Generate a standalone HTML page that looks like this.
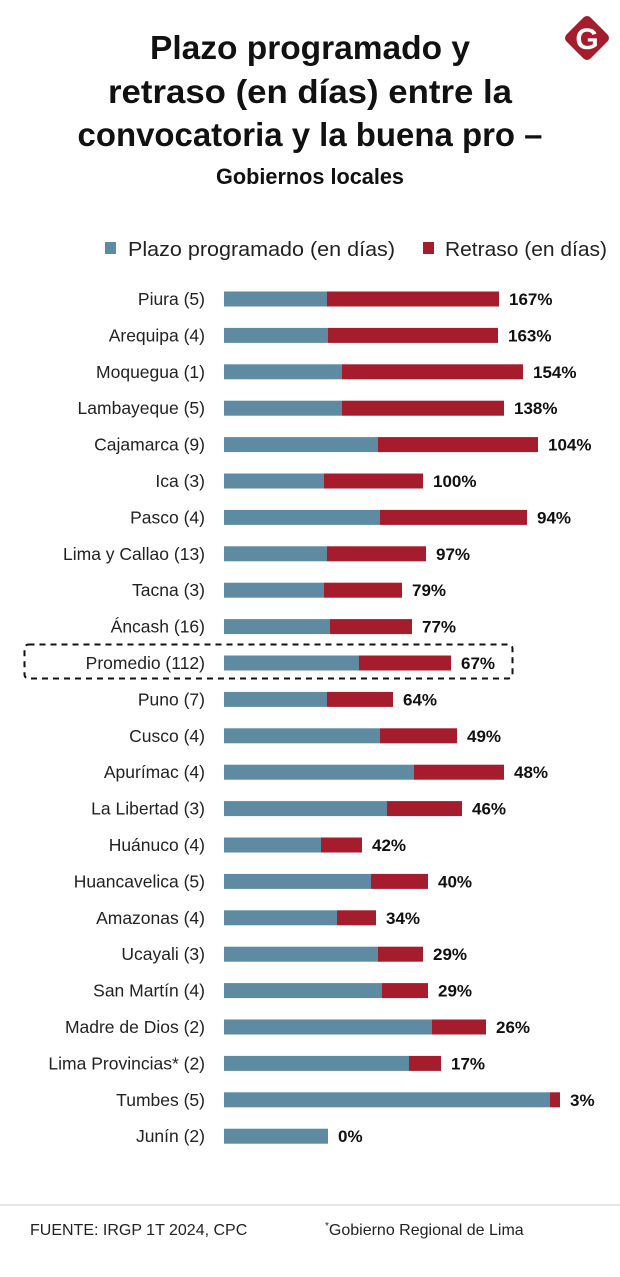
<!DOCTYPE html>
<html><head><meta charset="utf-8"><style>
body{margin:0;background:#fff;width:620px;height:1272px;overflow:hidden;font-family:"Liberation Sans",sans-serif}
</style></head><body>
<svg width="620" height="1272" viewBox="0 0 620 1272" xmlns="http://www.w3.org/2000/svg">
<g font-family="Liberation Sans, sans-serif" font-weight="bold" text-anchor="middle" fill="#111">
<text x="310" y="59" font-size="33" textLength="320" lengthAdjust="spacingAndGlyphs">Plazo programado y</text>
<text x="310" y="103" font-size="33" textLength="404" lengthAdjust="spacingAndGlyphs">retraso (en días)  entre la</text>
<text x="310" y="146" font-size="33" textLength="465" lengthAdjust="spacingAndGlyphs">convocatoria y la buena pro –</text>
<text x="310" y="184" font-size="22" textLength="188" lengthAdjust="spacingAndGlyphs">Gobiernos locales</text>
</g>
<g>
<rect x="570" y="21" width="34" height="34" rx="5" fill="#a51d2d" transform="rotate(45 587 38)"/>
<text x="587" y="49" font-size="30" font-weight="bold" fill="#fff" text-anchor="middle">G</text>
</g>
<g font-size="20" fill="#222">
<rect x="105" y="242" width="11" height="12" fill="#5e8aa2"/>
<text x="128" y="256" textLength="267" lengthAdjust="spacingAndGlyphs">Plazo programado (en días)</text>
<rect x="423" y="242" width="11" height="12" fill="#a51d2d"/>
<text x="445" y="256" textLength="162" lengthAdjust="spacingAndGlyphs">Retraso (en días)</text>
</g>
<rect x="24.5" y="644.5" width="488" height="34" rx="4" fill="none" stroke="#111" stroke-width="2" stroke-dasharray="6,5"/>
<g id="bars"></g>
<line x1="0" y1="1205" x2="620" y2="1205" stroke="#ccc"/>
<text x="30" y="1235" font-size="16" fill="#222">FUENTE: IRGP 1T 2024, CPC</text>
<text x="325" y="1235" font-size="16" fill="#222"><tspan font-size="10" dy="-6">*</tspan><tspan dy="6">Gobierno Regional de Lima</tspan></text>
</svg>
<script>
const categories=["Piura (5)","Arequipa (4)","Moquegua (1)","Lambayeque (5)","Cajamarca (9)","Ica (3)","Pasco (4)","Lima y Callao (13)","Tacna (3)","Áncash (16)","Promedio (112)","Puno (7)","Cusco (4)","Apurímac (4)","La Libertad (3)","Huánuco (4)","Huancavelica (5)","Amazonas (4)","Ucayali (3)","San Martín (4)","Madre de Dios (2)","Lima Provincias* (2)","Tumbes (5)","Junín (2)"];
const plazo=[103,104,118,118,154,100,156,103,100,106,135,103,156,190,163,97,147,113,154,158,208,185,326,104];
const retraso=[172,170,181,162,160,99,147,99,78,82,92,66,77,90,75,41,57,39,45,46,54,32,10,0];
const pctLabels=["167%","163%","154%","138%","104%","100%","94%","97%","79%","77%","67%","64%","49%","48%","46%","42%","40%","34%","29%","29%","26%","17%","3%","0%"];
const x0=224,pxPerDay=1,y0=299,step=36.4,bh=15;
const xs=v=>x0+v*pxPerDay, ys=i=>y0+i*step;
const g=document.getElementById('bars'),NS='http://www.w3.org/2000/svg';
categories.forEach((c,i)=>{
 const y=ys(i);
 const lab=document.createElementNS(NS,'text');
 
 
 lab.setAttribute('x',205);lab.setAttribute('y',y+6);lab.setAttribute('text-anchor','end');lab.setAttribute('font-size','17.5');lab.setAttribute('fill','#222');
 lab.textContent=c;g.appendChild(lab);
 const b=document.createElementNS(NS,'rect');
 
 
 b.setAttribute('x',xs(0));b.setAttribute('y',y-bh/2);b.setAttribute('width',xs(plazo[i])-xs(0));b.setAttribute('height',bh);b.setAttribute('fill','#5e8aa2');g.appendChild(b);
 const r=document.createElementNS(NS,'rect');
 
 
 r.setAttribute('x',xs(plazo[i]));r.setAttribute('y',y-bh/2);r.setAttribute('width',xs(plazo[i]+retraso[i])-xs(plazo[i]));r.setAttribute('height',bh);r.setAttribute('fill','#a51d2d');g.appendChild(r);
 const v=document.createElementNS(NS,'text');
 
 
 v.setAttribute('x',xs(plazo[i]+retraso[i])+10);v.setAttribute('y',y+6);v.setAttribute('font-size','17');v.setAttribute('font-weight','bold');v.setAttribute('fill','#111');
 v.textContent=pctLabels[i];g.appendChild(v);
});
</script>
</body></html>
